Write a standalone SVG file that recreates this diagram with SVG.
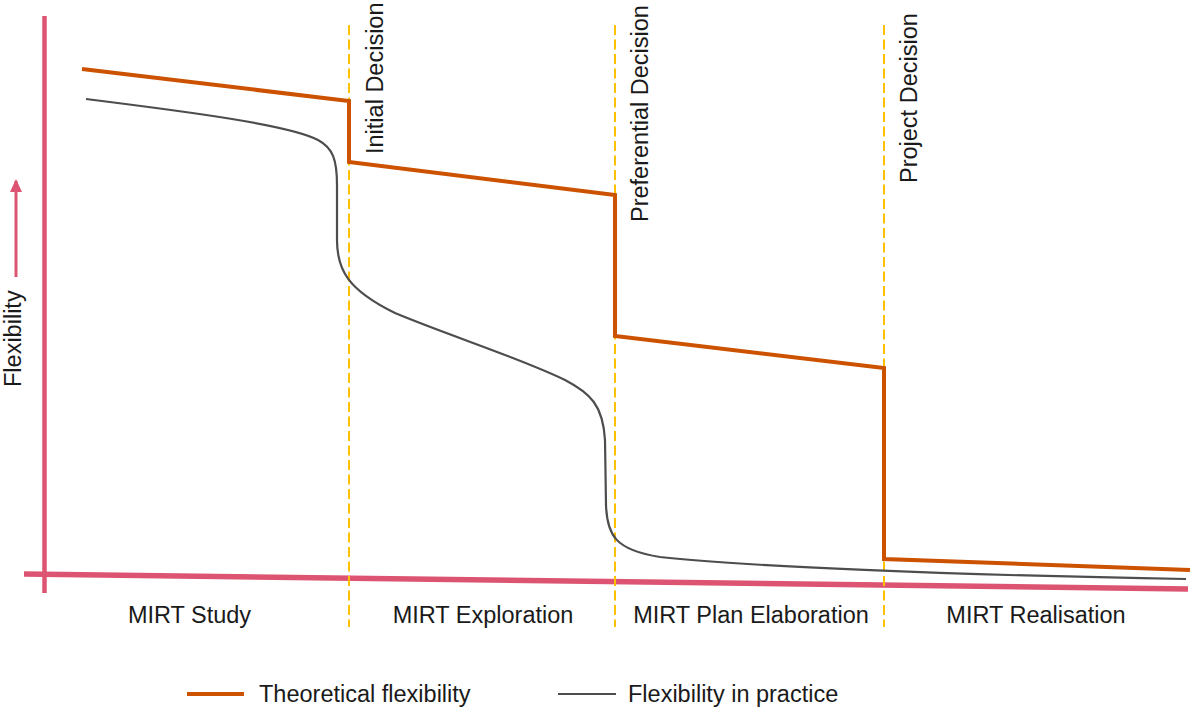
<svg xmlns="http://www.w3.org/2000/svg" width="1192" height="713" viewBox="0 0 1192 713">
<style>
text{font-family:"Liberation Sans",Arial,sans-serif;font-size:23.5px;fill:#1a1a1a}
.axis{stroke:#dc5471;fill:none}
.gate{stroke:#ffc000;stroke-width:2;stroke-dasharray:10 4.5;fill:none}
.theo{stroke:#cc5200;stroke-width:4;fill:none;stroke-linejoin:miter}
.prac{stroke:#4d4d4d;stroke-width:2.2;fill:none}
.mid{text-anchor:middle}
</style>
<defs>
<marker id="ah" viewBox="0 0 13 12" refX="11" refY="6" markerWidth="13" markerHeight="12" markerUnits="userSpaceOnUse" orient="auto">
<path d="M0,0 L13,6 L0,12 Z" fill="#dc5471"/>
</marker>
</defs>
<rect width="1192" height="713" fill="#fff"/>
<g id="axes">
<line class="axis" x1="44.5" y1="16" x2="44.5" y2="593" stroke-width="4.5"/>
<line class="axis" x1="24" y1="574" x2="1188" y2="589" stroke-width="5.5"/>
<path d="M16,277 L16,181" stroke="#dc5471" stroke-width="3" marker-end="url(#ah)"/>
<text transform="translate(21,387) rotate(-90)">Flexibility</text>
</g>
<g id="gates">
<line class="gate" x1="349" y1="25" x2="349" y2="627"/>
<line class="gate" x1="615" y1="25" x2="615" y2="627"/>
<line class="gate" x1="884" y1="25" x2="884" y2="627"/>
</g>
<g id="gate-labels">
<text transform="translate(383,154) rotate(-90)">Initial Decision</text>
<text transform="translate(648,222) rotate(-90)">Preferential Decision</text>
<text transform="translate(917,183) rotate(-90)">Project Decision</text>
</g>
<g id="connectors">
<path id="theoretical" class="theo" d="M82,69 L349,101 L349,162 L615,195 L615,336 L884,368 L884,559 L1190,570"/>
<path id="practice" class="prac" d="M86,99 C190,112 290,125 318,140 C333,148 337,160 337,185 L337,240 C337,270 348,290 395,313 C450,336 520,358 565,380 C590,393 603,405 605,440 L606,505 C607,535 615,550 660,557 C740,566 950,575 1186,579"/>
</g>
<g id="phases">
<text class="mid" x="189.5" y="623">MIRT Study</text>
<text class="mid" x="483" y="623">MIRT Exploration</text>
<text class="mid" x="751" y="623">MIRT Plan Elaboration</text>
<text class="mid" x="1036" y="623">MIRT Realisation</text>
</g>
<g id="legend">
<line x1="187" y1="694" x2="244" y2="694" class="theo"/>
<text x="259" y="702">Theoretical flexibility</text>
<line x1="558" y1="694" x2="616" y2="694" class="prac" stroke-width="2.5"/>
<text x="628" y="702">Flexibility in practice</text>
</g>
</svg>
